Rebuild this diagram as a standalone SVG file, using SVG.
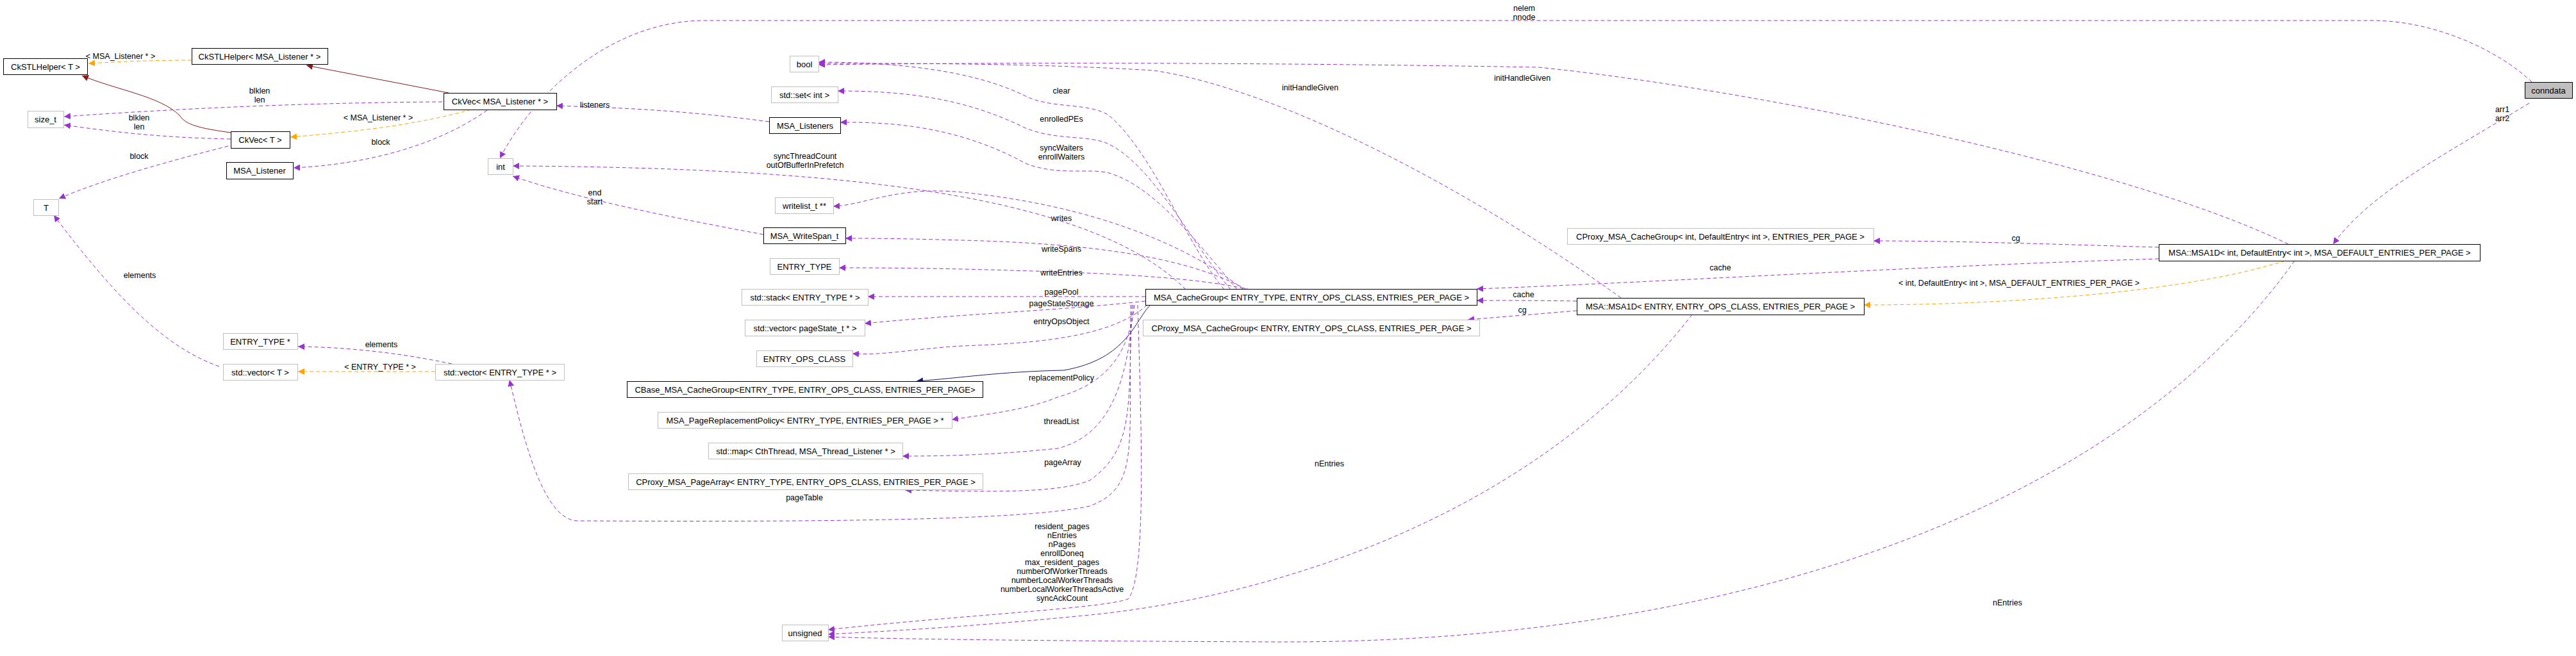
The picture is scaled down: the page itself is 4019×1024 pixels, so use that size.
<svg xmlns="http://www.w3.org/2000/svg" width="4019" height="1024" viewBox="0 0 4019 1024">
<style>
text{font-family:"Liberation Sans",Arial,sans-serif;font-size:13px;fill:#000}
.n rect{fill:#fff;stroke:#000;stroke-width:1}
.g rect{fill:#fff;stroke:#bfbfbf;stroke-width:1}
.n text,.g text{text-anchor:middle}
.e path{fill:none;stroke-width:1}
.p{stroke:#9a32cd;stroke-dasharray:6,4}
.o{stroke:#ffa500;stroke-dasharray:6,4}
.r{stroke:#8b1a1a}
.b{stroke:#191970}
.l{text-anchor:middle;font-size:12.5px}
</style>
<defs>
<marker id="ap" viewBox="0 0 10 10" refX="10" refY="5" markerWidth="10" markerHeight="10" markerUnits="userSpaceOnUse" orient="auto"><path d="M0,0L10,5L0,10z" fill="#9a32cd"/></marker>
<marker id="ao" viewBox="0 0 10 10" refX="10" refY="5" markerWidth="10" markerHeight="10" markerUnits="userSpaceOnUse" orient="auto"><path d="M0,0L10,5L0,10z" fill="#ffa500"/></marker>
<marker id="ar" viewBox="0 0 10 10" refX="10" refY="5" markerWidth="10" markerHeight="10" markerUnits="userSpaceOnUse" orient="auto"><path d="M0,0L10,5L0,10z" fill="#8b1a1a"/></marker>
<marker id="ab" viewBox="0 0 10 10" refX="10" refY="5" markerWidth="10" markerHeight="10" markerUnits="userSpaceOnUse" orient="auto"><path d="M0,0L10,5L0,10z" fill="#191970"/></marker>
</defs>
<rect width="4019" height="1024" fill="#fff"/>
<g id="edges" class="e">
<path class="o" marker-end="url(#ao)" d="M299,94 C240,94 190,96 138,99"/>
<path class="r" marker-end="url(#ar)" d="M360,207 C310,200 290,195 280,180 C250,150 180,140 128,118"/>
<path class="r" marker-end="url(#ar)" d="M700,145 L478,102"/>
<path class="p" marker-end="url(#ap)" d="M690,159 C500,160 300,168 100,182"/>
<path class="p" marker-end="url(#ap)" d="M360,217 C250,215 170,205 100,195"/>
<path class="p" marker-end="url(#ap)" d="M356,228 C270,250 160,280 92,310"/>
<path class="o" marker-end="url(#ao)" d="M735,171 C650,195 560,205 453,214"/>
<path class="p" marker-end="url(#ap)" d="M760,172 C700,215 600,255 458,262"/>
<path class="p" marker-end="url(#ap)" d="M1200,190 C1050,170 950,168 868,165"/>
<path class="p" marker-end="url(#ap)" d="M1191,366 C1050,340 900,310 800,275"/>
<path class="p" marker-end="url(#ap)" d="M1850,452 C1700,300 1300,262 800,259"/>
<path class="p" marker-end="url(#ap)" d="M3950,128 C3900,80 3800,32 3700,32 L1100,32 C950,32 830,150 780,247"/>
<path class="p" marker-end="url(#ap)" d="M1910,452 C1850,380 1800,240 1730,180 C1700,160 1640,170 1600,150 C1520,110 1400,97 1277,97"/>
<path class="p" marker-end="url(#ap)" d="M2529,465 C2300,300 2000,140 1800,110 C1600,98 1400,99 1277,99"/>
<path class="p" marker-end="url(#ap)" d="M3570,381 C3300,250 2700,135 2400,105 C2000,98 1600,97 1277,101"/>
<path class="p" marker-end="url(#ap)" d="M1920,452 C1860,380 1800,260 1730,225 C1700,210 1650,220 1600,200 C1500,150 1400,142 1307,142"/>
<path class="p" marker-end="url(#ap)" d="M1930,452 C1870,380 1800,290 1730,270 C1700,262 1650,275 1600,255 C1500,200 1400,190 1311,191"/>
<path class="p" marker-end="url(#ap)" d="M1940,452 C1850,380 1700,320 1500,300 C1400,290 1350,320 1300,322"/>
<path class="p" marker-end="url(#ap)" d="M1945,452 C1850,400 1700,380 1500,375 C1400,372 1350,372 1319,372"/>
<path class="p" marker-end="url(#ap)" d="M1950,452 C1850,430 1700,425 1500,420 C1400,418 1350,418 1309,418"/>
<path class="p" marker-end="url(#ap)" d="M1787,463 L1354,463"/>
<path class="p" marker-end="url(#ap)" d="M1787,470 C1650,485 1500,490 1349,505"/>
<path class="p" marker-end="url(#ap)" d="M1790,476 C1740,520 1650,535 1500,540 C1420,545 1380,555 1330,552"/>
<path class="b" marker-end="url(#ab)" d="M1795,476 C1770,500 1760,560 1660,578 C1560,580 1500,590 1430,595"/>
<path class="p" marker-end="url(#ap)" d="M1770,476 C1760,560 1720,600 1650,620 C1600,640 1550,645 1485,655"/>
<path class="p" marker-end="url(#ap)" d="M1768,476 C1760,600 1730,680 1650,700 C1550,710 1480,712 1408,712"/>
<path class="p" marker-end="url(#ap)" d="M1766,476 C1760,640 1770,700 1700,750 C1650,770 1550,768 1412,765"/>
<path class="p" marker-end="url(#ap)" d="M1764,476 C1760,700 1780,760 1700,790 C1600,812 1300,815 900,813 C850,810 820,700 795,593"/>
<path class="p" marker-end="url(#ap)" d="M1775,476 C1780,650 1790,900 1760,935 C1720,950 1500,960 1292,983"/>
<path class="p" marker-end="url(#ap)" d="M2640,491 C2400,800 2000,930 1700,960 C1500,980 1350,987 1292,990"/>
<path class="p" marker-end="url(#ap)" d="M3580,407 C3300,800 2700,1003 2000,1002 C1700,1001 1400,998 1292,994"/>
<path class="p" marker-end="url(#ap)" d="M705,568 C620,550 540,542 465,541"/>
<path class="o" marker-end="url(#ao)" d="M679,580 L465,580"/>
<path class="p" marker-end="url(#ap)" d="M342,572 C250,540 170,450 84,336"/>
<path class="p" marker-end="url(#ap)" d="M2460,470 C2400,469 2350,469 2304,469"/>
<path class="p" marker-end="url(#ap)" d="M2460,485 C2400,490 2340,495 2290,499"/>
<path class="p" marker-end="url(#ap)" d="M3368,404 C3000,415 2600,440 2304,451"/>
<path class="p" marker-end="url(#ap)" d="M3368,386 C3200,381 3050,376 2923,376"/>
<path class="o" marker-end="url(#ao)" d="M3565,407 C3400,460 3100,476 2908,476"/>
<path class="p" marker-end="url(#ap)" d="M3946,161 C3800,250 3700,300 3640,381"/>
</g>
<g id="labels">
<text class="l" x="188" y="92">&lt; MSA_Listener * &gt;</text>
<text class="l" x="405" y="146">blklen</text><text class="l" x="405" y="160">len</text>
<text class="l" x="217" y="188">blklen</text><text class="l" x="217" y="202">len</text>
<text class="l" x="217" y="248">block</text>
<text class="l" x="590" y="188">&lt; MSA_Listener * &gt;</text>
<text class="l" x="594" y="226">block</text>
<text class="l" x="928" y="168">listeners</text>
<text class="l" x="928" y="305">end</text><text class="l" x="928" y="319">start</text>
<text class="l" x="1256" y="248">syncThreadCount</text><text class="l" x="1256" y="262">outOfBufferInPrefetch</text>
<text class="l" x="2378" y="17">nelem</text><text class="l" x="2378" y="31">nnode</text>
<text class="l" x="1656" y="146">clear</text>
<text class="l" x="2044" y="141">initHandleGiven</text>
<text class="l" x="2375" y="126">initHandleGiven</text>
<text class="l" x="1656" y="190">enrolledPEs</text>
<text class="l" x="1656" y="235">syncWaiters</text><text class="l" x="1656" y="249">enrollWaiters</text>
<text class="l" x="1656" y="345">writes</text>
<text class="l" x="1656" y="393">writeSpans</text>
<text class="l" x="1656" y="430">writeEntries</text>
<text class="l" x="1656" y="460">pagePool</text>
<text class="l" x="1656" y="478">pageStateStorage</text>
<text class="l" x="1656" y="506">entryOpsObject</text>
<text class="l" x="1656" y="594">replacementPolicy</text>
<text class="l" x="1656" y="662">threadList</text>
<text class="l" x="1658" y="726">pageArray</text>
<text class="l" x="1255" y="781">pageTable</text>
<text class="l" x="1657" y="826">resident_pages</text>
<text class="l" x="1657" y="840">nEntries</text>
<text class="l" x="1657" y="854">nPages</text>
<text class="l" x="1657" y="868">enrollDoneq</text>
<text class="l" x="1657" y="882">max_resident_pages</text>
<text class="l" x="1657" y="896">numberOfWorkerThreads</text>
<text class="l" x="1657" y="910">numberLocalWorkerThreads</text>
<text class="l" x="1657" y="924">numberLocalWorkerThreadsActive</text>
<text class="l" x="1657" y="938">syncAckCount</text>
<text class="l" x="2074" y="728">nEntries</text>
<text class="l" x="3132" y="945">nEntries</text>
<text class="l" x="595" y="542">elements</text>
<text class="l" x="593" y="577">&lt; ENTRY_TYPE * &gt;</text>
<text class="l" x="218" y="434">elements</text>
<text class="l" x="2377" y="464">cache</text>
<text class="l" x="2375" y="488">cg</text>
<text class="l" x="2684" y="422">cache</text>
<text class="l" x="3145" y="376">cg</text>
<text class="l" x="3150" y="446">&lt; int, DefaultEntry&lt; int &gt;, MSA_DEFAULT_ENTRIES_PER_PAGE &gt;</text>
<text class="l" x="3904" y="175">arr1</text><text class="l" x="3904" y="189">arr2</text>
</g>
<g id="CkSTLHelperT" class="n"><rect x="5.5" y="91.5" width="131" height="25"/><text x="71" y="109">CkSTLHelper&lt; T &gt;</text></g>
<g id="CkSTLHelperL" class="n"><rect x="299.5" y="75.5" width="212" height="25"/><text x="405" y="93">CkSTLHelper&lt; MSA_Listener * &gt;</text></g>
<g id="size_t" class="g"><rect x="43.5" y="173.5" width="56" height="26"/><text x="71" y="191">size_t</text></g>
<g id="CkVecT" class="n"><rect x="360.5" y="205.5" width="92" height="26"/><text x="406" y="223">CkVec&lt; T &gt;</text></g>
<g id="MSA_Listener" class="n"><rect x="353.5" y="253.5" width="104" height="26"/><text x="405" y="271">MSA_Listener</text></g>
<g id="T" class="g"><rect x="52.5" y="311.5" width="39" height="25"/><text x="72" y="329">T</text></g>
<g id="CkVecL" class="n"><rect x="692.5" y="145.5" width="176" height="26"/><text x="780" y="163">CkVec&lt; MSA_Listener * &gt;</text></g>
<g id="int" class="g"><rect x="761.5" y="247.5" width="39" height="25"/><text x="781" y="265">int</text></g>
<g id="bool" class="g"><rect x="1232.5" y="87.5" width="45" height="25"/><text x="1255" y="105">bool</text></g>
<g id="stdset" class="g"><rect x="1203.5" y="135.5" width="104" height="25"/><text x="1255" y="153">std::set&lt; int &gt;</text></g>
<g id="MSA_Listeners" class="n"><rect x="1200.5" y="183.5" width="111" height="25"/><text x="1256" y="201">MSA_Listeners</text></g>
<g id="writelist" class="g"><rect x="1209.5" y="308.5" width="91" height="25"/><text x="1255" y="326">writelist_t **</text></g>
<g id="MSA_WriteSpan" class="n"><rect x="1191.5" y="355.5" width="128" height="25"/><text x="1255" y="373">MSA_WriteSpan_t</text></g>
<g id="ENTRY_TYPE" class="g"><rect x="1201.5" y="403.5" width="108" height="25"/><text x="1255" y="421">ENTRY_TYPE</text></g>
<g id="stdstack" class="g"><rect x="1157.5" y="451.5" width="197" height="25"/><text x="1256" y="469">std::stack&lt; ENTRY_TYPE * &gt;</text></g>
<g id="stdvecps" class="g"><rect x="1162.5" y="499.5" width="187" height="25"/><text x="1256" y="517">std::vector&lt; pageState_t * &gt;</text></g>
<g id="ENTRY_OPS_CLASS" class="g"><rect x="1180.5" y="547.5" width="150" height="25"/><text x="1255" y="565">ENTRY_OPS_CLASS</text></g>
<g id="CBase" class="n"><rect x="978.5" y="595.5" width="555" height="25"/><text x="1256" y="613">CBase_MSA_CacheGroup&lt;ENTRY_TYPE, ENTRY_OPS_CLASS, ENTRIES_PER_PAGE&gt;</text></g>
<g id="PRP" class="g"><rect x="1026.5" y="643.5" width="459" height="25"/><text x="1256" y="661">MSA_PageReplacementPolicy&lt; ENTRY_TYPE, ENTRIES_PER_PAGE &gt; *</text></g>
<g id="stdmap" class="g"><rect x="1105.5" y="691.5" width="303" height="25"/><text x="1257" y="709">std::map&lt; CthThread, MSA_Thread_Listener * &gt;</text></g>
<g id="PageArray" class="g"><rect x="980.5" y="739.5" width="553" height="25"/><text x="1257" y="757">CProxy_MSA_PageArray&lt; ENTRY_TYPE, ENTRY_OPS_CLASS, ENTRIES_PER_PAGE &gt;</text></g>
<g id="unsigned" class="g"><rect x="1220.5" y="975.5" width="72" height="25"/><text x="1256" y="993">unsigned</text></g>
<g id="ENTRY_TYPEp" class="g"><rect x="348.5" y="520.5" width="116" height="25"/><text x="406" y="538">ENTRY_TYPE *</text></g>
<g id="stdvecT" class="g"><rect x="348.5" y="568.5" width="116" height="25"/><text x="406" y="586">std::vector&lt; T &gt;</text></g>
<g id="stdvecE" class="g"><rect x="679.5" y="568.5" width="201" height="25"/><text x="780" y="586">std::vector&lt; ENTRY_TYPE * &gt;</text></g>
<g id="MSA_CacheGroup" class="n"><rect x="1787.5" y="451.5" width="517" height="25"/><text x="2046" y="469">MSA_CacheGroup&lt; ENTRY_TYPE, ENTRY_OPS_CLASS, ENTRIES_PER_PAGE &gt;</text></g>
<g id="CProxyCG" class="g"><rect x="1783.5" y="499.5" width="525" height="25"/><text x="2046" y="517">CProxy_MSA_CacheGroup&lt; ENTRY, ENTRY_OPS_CLASS, ENTRIES_PER_PAGE &gt;</text></g>
<g id="CProxyCGint" class="g"><rect x="2445.5" y="356.5" width="478" height="25"/><text x="2684" y="374">CProxy_MSA_CacheGroup&lt; int, DefaultEntry&lt; int &gt;, ENTRIES_PER_PAGE &gt;</text></g>
<g id="MSA1Dint" class="n"><rect x="3368.5" y="381.5" width="501" height="26"/><text x="3619" y="399">MSA::MSA1D&lt; int, DefaultEntry&lt; int &gt;, MSA_DEFAULT_ENTRIES_PER_PAGE &gt;</text></g>
<g id="MSA1DE" class="n"><rect x="2460.5" y="465.5" width="448" height="26"/><text x="2684" y="483">MSA::MSA1D&lt; ENTRY, ENTRY_OPS_CLASS, ENTRIES_PER_PAGE &gt;</text></g>
<g id="conndata" class="n"><rect x="3939.5" y="128.5" width="74" height="25" style="fill:#bfbfbf"/><text x="3976" y="146">conndata</text></g>
</svg>
